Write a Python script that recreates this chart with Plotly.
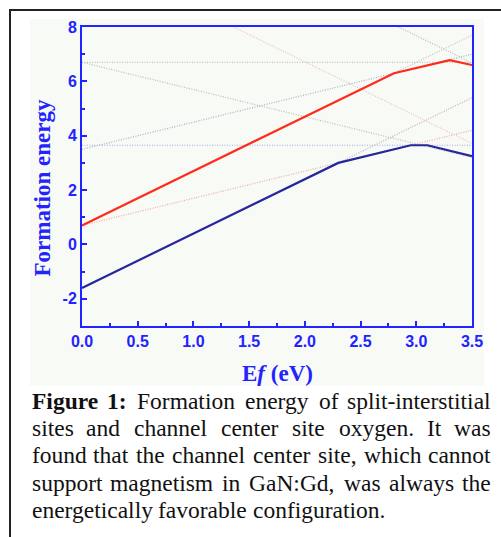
import plotly.graph_objects as go

# ---------------- data ----------------
red_x = [0.0, 2.8, 3.3, 3.5]
red_y = [0.7, 6.3, 6.78, 6.6]

blue_x = [0.0, 2.3, 2.95, 3.1, 3.5]
blue_y = [-1.6, 3.0, 3.65, 3.65, 3.25]

# faint dotted charge-state lines
dot_a_x = [0.0, 3.5]; dot_a_y = [6.7, 6.7]
dot_b_x = [0.0, 3.5]; dot_b_y = [6.7, 3.2]
dot_c_x = [0.0, 3.5]; dot_c_y = [3.65, 3.65]
dot_d_x = [0.0, 3.5]; dot_d_y = [3.5, 7.0]
dot_e_x = [0.0, 3.5]; dot_e_y = [0.7, 4.2]
dot_f_x = [1.36, 3.5]; dot_f_y = [8.0, 3.72]
dot_g_x = [2.84, 3.5]; dot_g_y = [8.0, 6.68]
dot_h_x = [2.3, 3.5]; dot_h_y = [3.0, 5.4]
dot_i_x = [2.8, 3.5]; dot_i_y = [6.3, 7.7]

x_ticks = [0.0, 0.5, 1.0, 1.5, 2.0, 2.5, 3.0, 3.5]
x_labels = ["0.0", "0.5", "1.0", "1.5", "2.0", "2.5", "3.0", "3.5"]
y_ticks = [-2, 0, 2, 4, 6, 8]
y_labels = ["-2", "0", "2", "4", "6", "8"]

caption_lines = [
    [("Figure", True), ("1:", True), ("Formation", False), ("energy", False), ("of", False), ("split-interstitial", False)],
    [("sites", False), ("and", False), ("channel", False), ("center", False), ("site", False), ("oxygen.", False), ("It", False), ("was", False)],
    [("found", False), ("that", False), ("the", False), ("channel", False), ("center", False), ("site,", False), ("which", False), ("cannot", False)],
    [("support", False), ("magnetism", False), ("in", False), ("GaN:Gd,", False), ("was", False), ("always", False), ("the", False)],
    [("energetically", False), ("favorable", False), ("configuration.", False)],
]

# ---------------- layout constants ----------------
W, H = 501, 537
L, R, T, B = 82, 472, 27, 326
AX = "#2323ff"

def px(xp):
    return (xp - L) / (R - L)

def py(yp):
    return (B - yp) / (B - T)

fig = go.Figure()

dots = [
    (dot_a_x, dot_a_y, "#c4c4b4"),
    (dot_b_x, dot_b_y, "#b4c0b4"),
    (dot_c_x, dot_c_y, "#a8a8e8"),
    (dot_d_x, dot_d_y, "#a8b0c4"),
    (dot_e_x, dot_e_y, "#f2a8a8"),
    (dot_f_x, dot_f_y, "#ecbcca"),
    (dot_g_x, dot_g_y, "#b8b8b8"),
    (dot_h_x, dot_h_y, "#b8b4b4"),
    (dot_i_x, dot_i_y, "#ccbcbc"),
]
for xs, ys, c in dots:
    fig.add_trace(go.Scatter(x=xs, y=ys, mode="lines",
                             line=dict(color=c, width=1.2, dash="1px,1.5px"),
                             hoverinfo="skip", showlegend=False))

fig.add_trace(go.Scatter(x=blue_x, y=blue_y, mode="lines",
                         line=dict(color="#27279c", width=2.2), showlegend=False))
fig.add_trace(go.Scatter(x=red_x, y=red_y, mode="lines",
                         line=dict(color="#ff2a1a", width=2.2), showlegend=False))

tickfont = dict(family="Liberation Sans, Arial, sans-serif", size=16, color=AX)

fig.update_xaxes(range=[0, 3.5], tickvals=x_ticks,
                 ticktext=[f"<b>{s}</b>" for s in x_labels],
                 ticks="inside", ticklen=5, tickwidth=2, tickcolor=AX,
                 showline=True, linewidth=2, linecolor=AX, mirror=True,
                 showgrid=False, zeroline=False, tickfont=tickfont,
                 minor=dict(ticks="inside", ticklen=3, tickwidth=2, tickcolor=AX,
                            dtick=0.25, tick0=0, showgrid=False))
fig.update_yaxes(range=[-3, 8], tickvals=y_ticks,
                 ticktext=[f"<b>{s}</b>" for s in y_labels],
                 ticks="inside", ticklen=5, tickwidth=2, tickcolor=AX,
                 showline=True, linewidth=2, linecolor=AX, mirror=True,
                 showgrid=False, zeroline=False, tickfont=tickfont,
                 minor=dict(ticks="inside", ticklen=3, tickwidth=2, tickcolor=AX,
                            dtick=1, tick0=-3, showgrid=False))

serif = "Liberation Serif, Times New Roman, serif"
ann = []
# axis titles
ann.append(dict(text="<b>Formation energy</b>", textangle=-90, x=px(42), y=py(188.5),
                xref="paper", yref="paper", showarrow=False,
                xanchor="center", yanchor="middle",
                font=dict(family=serif, size=23, color=AX)))
ann.append(dict(text="<b>E<i>f</i> (eV)</b>", x=px(277.5), y=py(373),
                xref="paper", yref="paper", showarrow=False,
                xanchor="center", yanchor="middle",
                font=dict(family=serif, size=23, color=AX)))

# caption (justified by placing words)
REG = {' ': 250, '.': 250, ',': 250, ':': 278, '-': 333, '1': 500,
       'a': 444, 'b': 500, 'c': 444, 'd': 500, 'e': 444, 'f': 333, 'g': 500,
       'h': 500, 'i': 278, 'l': 278, 'm': 778, 'n': 500, 'o': 500, 'p': 500,
       'r': 333, 's': 389, 't': 278, 'u': 500, 'v': 500, 'w': 722, 'y': 500,
       'I': 333, 'F': 556, 'G': 722, 'N': 722}
BOLD = {'F': 611, 'i': 278, 'g': 500, 'u': 556, 'r': 444, 'e': 444, '1': 500, ':': 333}
FS = 23.5
CL, CR = 31, 492
base0, pitch = 408.5, 27.4

def wwidth(word, bold):
    tab = BOLD if bold else REG
    return sum(tab.get(ch, REG.get(ch, 500)) for ch in word) * FS / 1000.0

for li, words in enumerate(caption_lines):
    base = base0 + li * pitch
    yc = base - 0.34 * FS
    widths = [wwidth(w, b) for w, b in words]
    last = li == len(caption_lines) - 1
    if last:
        gap = 250 * FS / 1000.0
    else:
        gap = (CR - CL - sum(widths)) / (len(words) - 1)
    xpos = CL
    for k, ((w, b), ww) in enumerate(zip(words, widths)):
        txt = f"<b>{w}</b>" if b else w
        if k == 0:
            xa, xv = "left", xpos
        elif k == len(words) - 1 and not last:
            xa, xv = "right", CR
        else:
            xa, xv = "center", xpos + ww / 2
        ann.append(dict(text=txt, x=px(xv), y=py(yc), xref="paper", yref="paper",
                        showarrow=False, xanchor=xa, yanchor="middle", borderpad=0,
                        font=dict(family=serif, size=FS, color="#111111")))
        xpos += ww + gap

shapes = [
    # faint panel behind the chart
    dict(type="rect", xref="paper", yref="paper", x0=px(30), x1=px(484), y0=py(386), y1=py(19),
         fillcolor="#f8faf5", line=dict(width=0), layer="below"),
    # outer frame
    dict(type="rect", xref="paper", yref="paper", x0=px(10), x1=px(520), y0=py(560), y1=py(10),
         fillcolor="rgba(0,0,0,0)", line=dict(color="#222222", width=2)),
]

fig.update_layout(width=W, height=H,
                  margin=dict(l=L, r=W - R, t=T, b=H - B, pad=0),
                  paper_bgcolor="white", plot_bgcolor="white",
                  showlegend=False, annotations=ann, shapes=shapes)

fig.write_html("out.html")
